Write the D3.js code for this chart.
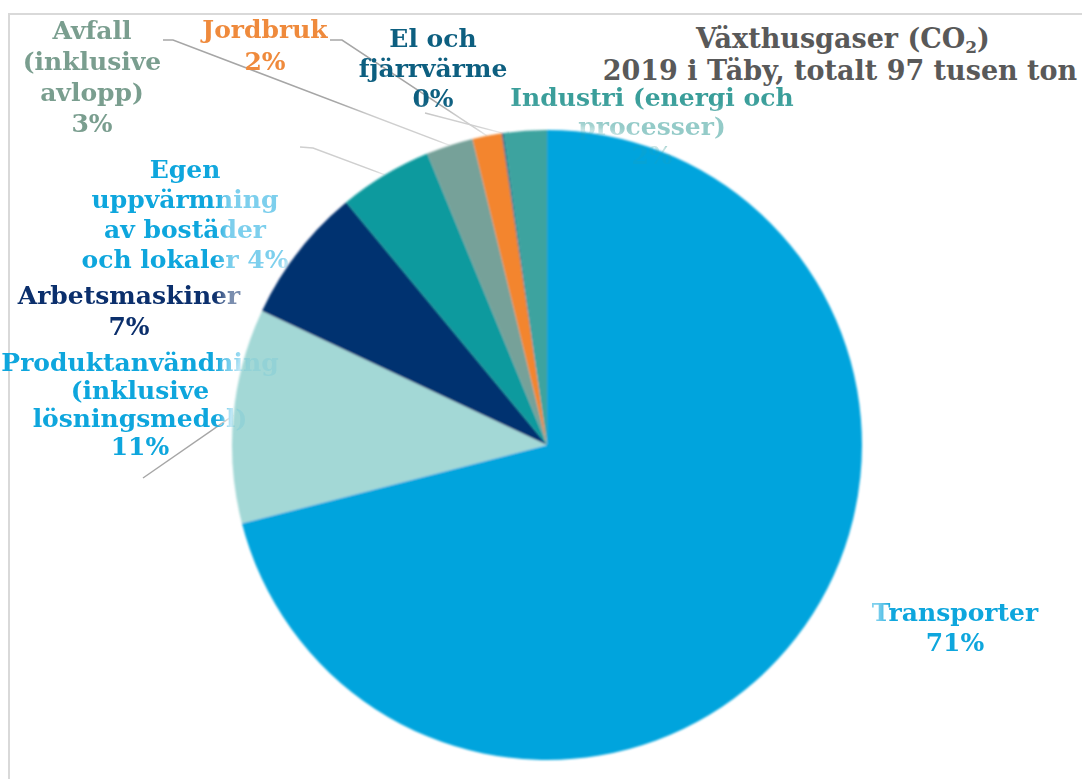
<!DOCTYPE html>
<html>
<head>
<meta charset="utf-8">
<script src="https://cdn.jsdelivr.net/npm/d3@7"></script>
<style>
  body { margin: 0; background: #fff; }
  svg text { font-family: "DejaVu Serif", Georgia, serif; font-weight: bold; }
</style>
</head>
<body>
<div id="chart"></div>
<script>
// Data (clockwise from 12 o'clock)
const categories = [
    "Transporter",
    "Produktanvändning\n(inklusive\nlösningsmedel)",
    "Arbetsmaskiner",
    "Egen\nuppvärmning\nav bostäder\noch lokaler",
    "Avfall\n(inklusive\navlopp)",
    "Jordbruk",
    "El och\nfjärrvärme",
    "Industri (energi och\nprocesser)"
];
const values = [71, 11, 7, 4.8, 2.4, 1.5, 0.1, 2.2];
const pctLabels = ["71%", "11%", "7%", "4%", "3%", "2%", "0%", "2%"];
const titleLines = ["Växthusgaser (CO", "2019 i Täby, totalt 97 tusen ton"];

const sliceColors = ["#03a4dd", "#a3d8d6", "#03306f", "#0b9a9e", "#76a199", "#f3852d", "#0b5f80", "#3ca39f"];
const textColors  = ["#0ea6dd", "#0ea6dd", "#0b2f6c", "#0ea6dd", "#7a9e8f", "#ef8a3c", "#0d5f80", "#3a9e9a"];

// label placement (first baseline, line height, leader start points)
const labelLayout = [
    { x: 955, y: 621, lh: 30 },
    { x: 140, y: 371, lh: 28, leader: [[143, 478]] },
    { x: 129, y: 304, lh: 31 },
    { x: 185, y: 178, lh: 30, inline: true, leader: [[300, 147], [313, 148]] },
    { x: 92,  y: 39,  lh: 31, leader: [[163, 40], [173, 40]] },
    { x: 265, y: 38,  lh: 32, leader: [[330, 40], [342, 40]] },
    { x: 433, y: 47,  lh: 30, leader: [[425, 113]] },
    { x: 652, y: 106, lh: 29 }
];

const W = 1082, H = 779;
const cx = 547, cy = 445, r = 315;
const plotArea = { x0: 222, y0: 110, x1: 885, y1: H + 20 };

const svg = d3.select("#chart")
    .append("svg")
    .attr("width", W)
    .attr("height", H);

const defs = svg.append("defs");
defs.append("filter").attr("id", "blur4")
    .attr("x", "-20%").attr("y", "-20%").attr("width", "140%").attr("height", "140%")
    .append("feGaussianBlur").attr("stdDeviation", 4);
defs.append("filter").attr("id", "soft")
    .append("feGaussianBlur").attr("stdDeviation", 1.1);

// labels fade where they run into the plot area, and vanish over the pie
const mask = defs.append("mask").attr("id", "fade")
    .attr("maskUnits", "userSpaceOnUse")
    .attr("x", 0).attr("y", 0).attr("width", W).attr("height", H);
mask.append("rect").attr("width", W).attr("height", H).attr("fill", "#fff");
mask.append("rect")
    .attr("x", plotArea.x0).attr("y", plotArea.y0)
    .attr("width", plotArea.x1 - plotArea.x0).attr("height", plotArea.y1 - plotArea.y0)
    .attr("fill", "#8a8a8a")
    .attr("filter", "url(#blur4)");
mask.append("circle")
    .attr("cx", cx).attr("cy", cy).attr("r", r + 4)
    .attr("fill", "#1a1a1a")
    .attr("filter", "url(#blur4)");

// chart border
svg.append("rect")
    .attr("x", 9).attr("y", 14)
    .attr("width", W + 20).attr("height", H + 20)
    .attr("fill", "none")
    .attr("stroke", "#d9d9d9")
    .attr("stroke-width", 2);

const pie = d3.pie().sort(null).value(d => d);
const arcs = pie(values);
const arc = d3.arc().innerRadius(0).outerRadius(r);

// title
const title = svg.append("g").attr("fill", "#595959").attr("font-size", 27).attr("text-anchor", "middle");
const t1 = title.append("text").attr("x", 843).attr("y", 48);
t1.append("tspan").text(titleLines[0]);
t1.append("tspan").attr("font-size", 17).attr("dy", 5).text("2");
t1.append("tspan").attr("dy", -5).text(")");
title.append("text").attr("x", 840).attr("y", 80).text(titleLines[1]);

// pie
svg.append("g")
    .attr("transform", `translate(${cx},${cy})`)
    .attr("filter", "url(#soft)")
    .selectAll("path")
    .data(arcs)
    .enter()
    .append("path")
    .attr("d", arc)
    .attr("fill", (d, i) => sliceColors[i]);

const overlay = svg.append("g").attr("mask", "url(#fade)");

// leader lines
const leaders = overlay.append("g")
    .attr("fill", "none")
    .attr("stroke", "#a6a6a6")
    .attr("stroke-width", 1.5);

arcs.forEach((a, i) => {
    const L = labelLayout[i];
    if (!L.leader) return;
    const mid = (a.startAngle + a.endAngle) / 2;
    const end = [cx + r * Math.sin(mid), cy - r * Math.cos(mid)];
    leaders.append("path").attr("d", d3.line()(L.leader.concat([end])));
});

// labels
const labels = overlay.append("g").attr("font-size", 25).attr("text-anchor", "middle");
categories.forEach((name, i) => {
    const L = labelLayout[i];
    const lines = name.split("\n");
    if (L.inline) lines[lines.length - 1] += " " + pctLabels[i];
    else lines.push(pctLabels[i]);
    const t = labels.append("text")
        .attr("x", L.x)
        .attr("y", L.y)
        .attr("fill", textColors[i]);
    lines.forEach((ln, k) => {
        t.append("tspan").attr("x", L.x).attr("y", L.y + k * L.lh).text(ln);
    });
});
</script>
</body>
</html>
